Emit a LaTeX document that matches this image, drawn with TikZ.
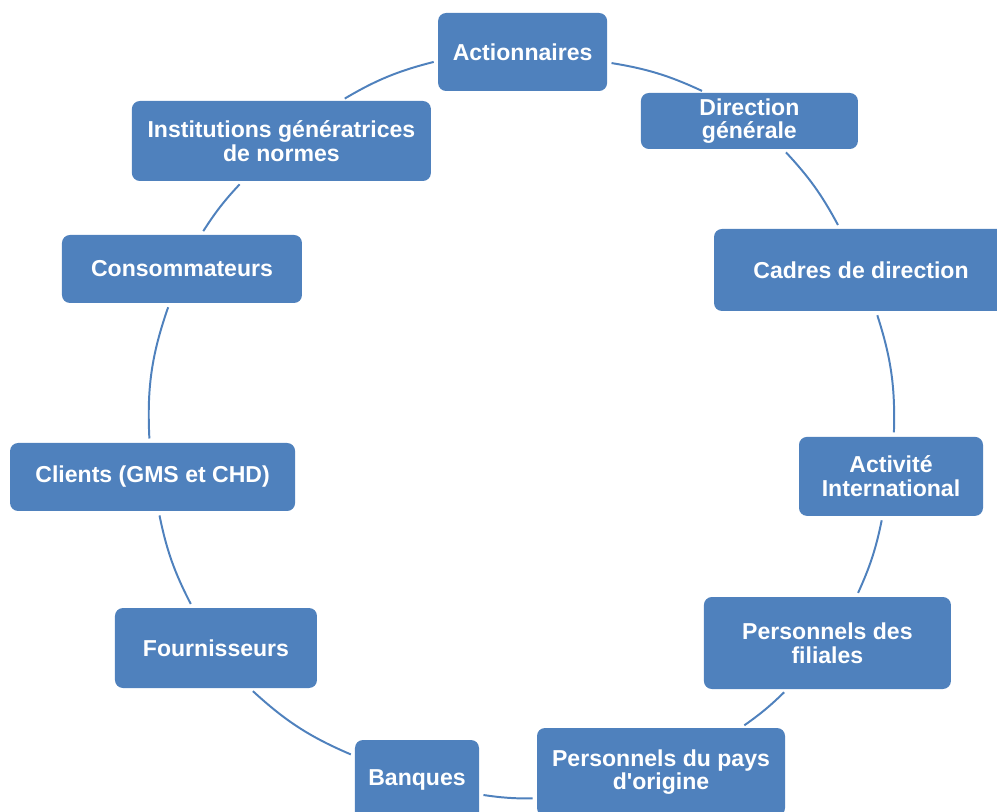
\documentclass[tikz,border=0pt]{standalone}
\usepackage{fontspec}
\setmainfont{Liberation Sans}
\usepackage{tikz}
\definecolor{acteur}{RGB}{79, 129, 189}

\begin{document}
\begin{tikzpicture}[every node/.style={font=\fontsize{16.4}{16.8}\selectfont\bfseries},
  partie/.style={fill=acteur, rounded corners=0.2cm, text=white, align=center, inner sep=0pt},
  lien/.style={draw=acteur, line width=1.4pt, shorten >=3pt, shorten <=3pt}]
  \useasboundingbox (-13.025,-9.625) rectangle (11.9,10.65);
  % stakeholders on a circle, clockwise from the top
  \node[partie, minimum width=4.225cm, minimum height=1.95cm] (actionnaires) at (0.04,9.35) {Actionnaires};
  \node[partie, minimum width=5.425cm, minimum height=1.4cm] (direction) at (5.71,7.625) {Direction\\ générale};
  \node[partie, minimum width=7.35cm, minimum height=2.05cm] (cadres) at (8.5,3.9) {Cadres de direction};
  \node[partie, minimum width=4.6cm, minimum height=1.975cm] (activite) at (9.25,-1.26) {Activité\\ International};
  \node[partie, minimum width=6.175cm, minimum height=2.3cm] (filiales) at (7.66,-5.425) {Personnels des\\ filiales};
  \node[partie, minimum width=6.2cm, minimum height=2.2cm] (origine) at (3.5,-8.65) {Personnels du pays\\ d\textquotesingle origine};
  \node[partie, minimum width=3.1cm, minimum height=2.0cm] (banques) at (-2.6,-8.85) {Banques};
  \node[partie, minimum width=5.05cm, minimum height=2.0cm] (fournisseurs) at (-7.625,-5.55) {Fournisseurs};
  \node[partie, minimum width=7.125cm, minimum height=1.7cm] (clients) at (-9.21,-1.275) {Clients (GMS et CHD)};
  \node[partie, minimum width=6.0cm, minimum height=1.7cm] (consommateurs) at (-8.475,3.925) {Consommateurs};
  \node[partie, minimum width=7.475cm, minimum height=2.0cm] (institutions) at (-5.99,7.125) {Institutions génératrices\\ de normes};
  % arcs of the circle between neighbours
  \draw[lien] (actionnaires.353.5) to[bend left=7.9] (direction.147.4);
  \draw[lien] (direction.320.4) to[bend left=7.4] (cadres.117.5);
  \draw[lien] (cadres.290.7) to[bend left=9.8] (activite.86.1);
  \draw[lien] (activite.258.3) to[bend left=6.5] (filiales.58.6);
  \draw[lien] (filiales.229) to[bend left=4.7] (origine.29.1);
  \draw[lien] (origine.192.5) to[bend left=4.5] (banques.347.8);
  \draw[lien] (banques.159.7) to[bend left=9.7] (fournisseurs.310);
  \draw[lien] (fournisseurs.120.6) to[bend left=7.9] (clients.280.9);
  \draw[lien] (clients.95.1) to[bend left=11] (consommateurs.250.3);
  \draw[lien] (consommateurs.61.1) to[bend left=5.3] (institutions.226);
  \draw[lien] (institutions.34.7) to[bend left=8.2] (actionnaires.186.4);
\end{tikzpicture}
\end{document}
